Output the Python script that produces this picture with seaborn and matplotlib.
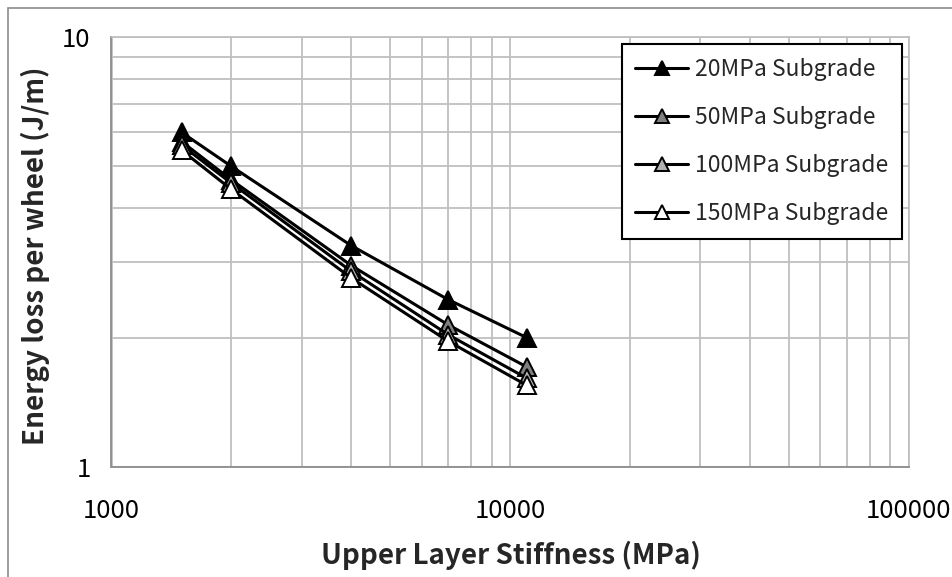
import numpy as np
import pandas as pd
import matplotlib
matplotlib.use("Agg")
import matplotlib.pyplot as plt
import matplotlib.patches as patches
from matplotlib.ticker import LogLocator, NullFormatter, FixedLocator
import seaborn as sns

# Data
stiffness = [1500, 2000, 4000, 7000, 11000]
energy_20 = [6.0, 5.0, 3.27, 2.45, 2.0]
energy_50 = [5.71, 4.65, 2.94, 2.14, 1.71]
energy_100 = [5.6, 4.57, 2.85, 2.03, 1.61]
energy_150 = [5.45, 4.42, 2.75, 1.96, 1.55]
series_labels = ["20MPa Subgrade", "50MPa Subgrade", "100MPa Subgrade", "150MPa Subgrade"]
x_ticks = [1000, 10000, 100000]
y_ticks = [1, 10]

face_colors = ["#000000", "#7f7f7f", "#b2b2b2", "#ffffff"]
grid_col = "#bfbfbf"
axis_col = "#8c8c8c"

sns.set_style("white")
plt.rcParams["font.family"] = ["Noto Sans CJK JP", "DejaVu Sans"]

fig = plt.figure(figsize=(9.53, 5.77), dpi=100)
W, H = 953, 577
ax = fig.add_axes([111.5 / W, 1 - 467 / H, (908.6 - 111.5) / W, (467 - 37) / H])

# outer chart border (only left/top visible in the crop)
fig.patches.append(patches.Rectangle((8 / W, -0.1), 2.0, 1.1 - 8 / H,
                                     transform=fig.transFigure, fill=False,
                                     edgecolor=axis_col, linewidth=1.2))

df = pd.DataFrame({
    "stiffness": stiffness * 4,
    "energy": energy_20 + energy_50 + energy_100 + energy_150,
    "series": sum([[s] * len(stiffness) for s in series_labels], []),
})

for lab, fc in zip(series_labels, face_colors):
    sub = df[df["series"] == lab]
    sns.lineplot(data=sub, x="stiffness", y="energy", ax=ax, color="black",
                 linewidth=2.2, marker="^", markersize=13,
                 markerfacecolor=fc, markeredgecolor="black",
                 markeredgewidth=1.4, label=lab, zorder=3)

ax.set_xscale("log")
ax.set_yscale("log")
ax.set_xlim(1000, 100000)
ax.set_ylim(1, 10)

ax.xaxis.set_major_locator(FixedLocator(x_ticks))
ax.yaxis.set_major_locator(FixedLocator(y_ticks))
ax.set_xticklabels([str(t) for t in x_ticks])
ax.set_yticklabels([str(t) for t in y_ticks])
ax.xaxis.set_minor_locator(LogLocator(base=10, subs=np.arange(2, 10)))
ax.yaxis.set_minor_locator(LogLocator(base=10, subs=np.arange(2, 10)))
ax.xaxis.set_minor_formatter(NullFormatter())
ax.yaxis.set_minor_formatter(NullFormatter())

ax.grid(True, which="both", color=grid_col, linewidth=1.3)
ax.set_axisbelow(True)
ax.tick_params(axis="both", which="major", direction="out", length=5,
               width=1.2, colors=axis_col, labelsize=18.5, labelcolor="black")
ax.tick_params(axis="both", which="minor", length=0)
ax.tick_params(axis="x", which="major", pad=17)
ax.tick_params(axis="y", which="major", pad=10)

for side in ["left", "bottom"]:
    ax.spines[side].set_color(axis_col)
    ax.spines[side].set_linewidth(1.3)
for side in ["top", "right"]:
    ax.spines[side].set_color(grid_col)
    ax.spines[side].set_linewidth(1.3)

ax.set_xlabel("Upper Layer Stiffness (MPa)", fontsize=20, fontweight="bold", va="center")
ax.xaxis.set_label_coords(0.501, -0.205)
ax.set_ylabel("Energy loss per wheel (J/m)", fontsize=20, fontweight="bold", va="center")
ax.yaxis.set_label_coords(-0.096, 0.492)

leg = ax.legend(loc="upper right", bbox_to_anchor=(0.9917, 0.9837),
                borderaxespad=0, frameon=True, fancybox=False,
                edgecolor="black", framealpha=1, fontsize=16.5,
                handlelength=2.3, handletextpad=0.3, labelspacing=1.1,
                borderpad=0.6, markerscale=0.8)
leg.get_frame().set_linewidth(1.5)

fig.savefig("out.png", dpi=100)
